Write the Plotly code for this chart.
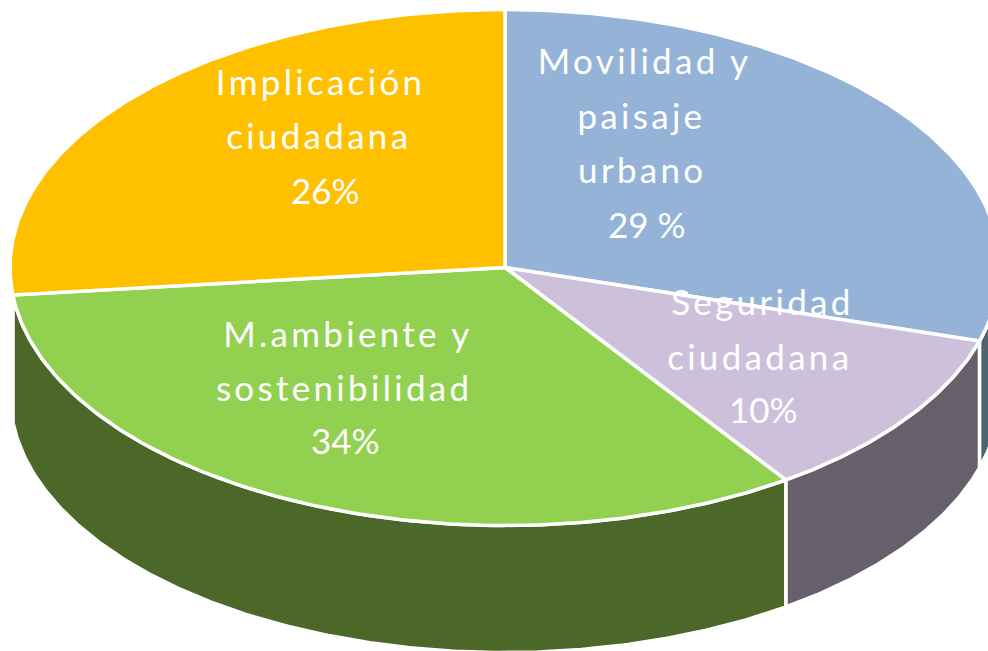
import numpy as np
import plotly.graph_objects as go

# Data
categories = ["Movilidad y paisaje urbano", "Seguridad ciudadana",
              "M.ambiente y sostenibilidad", "Implicación ciudadana"]
printed_percent = ["29 %", "10%", "34%", "26%"]
# Slice sizes (perspective makes them differ slightly from the printed labels)
slice_share = [29.6, 10.8, 32.9, 26.7]
label_lines = [["Movilidad y", "paisaje", "urbano"],
               ["Seguridad", "ciudadana"],
               ["M.ambiente y", "sostenibilidad"],
               ["Implicación", "ciudadana"]]

# Styles and layout
top_colors = ["#95B3D7", "#CCC0DA", "#92D050", "#FFC000"]
wall_colors = ["#4F6275", "#67606C", "#4B6828", "#7F6000"]
CX, CY, RX, RY, DEPTH = 505, 267.5, 495, 258, 127
label_anchor = [[(644, 60), (641, 115), (642, 169), (647, 224)],
                [(762, 301), (760, 356), (763, 409)],
                [(348, 333), (344, 387), (345, 440)],
                [(320, 81), (319, 135), (325, 190)]]


def rim(a, b, dy=0.0):
    t = np.radians(np.linspace(a, b, max(int(abs(b - a)) * 2, 2)))
    return CX + RX * np.sin(t), CY - RY * np.cos(t) + dy


edges = np.concatenate([[0], np.cumsum(slice_share)]) / sum(slice_share) * 360
fig = go.Figure()

# Side walls: only the part of each slice on the front half of the ellipse
for i in range(len(slice_share)):
    a, b = max(edges[i], 90), min(edges[i + 1], 270)
    if b <= a:
        continue
    x0, y0 = rim(a, b)
    x1, y1 = rim(a, b, DEPTH)
    fig.add_trace(go.Scatter(
        x=np.concatenate([x0, x1[::-1], x0[:1]]),
        y=np.concatenate([y0, y1[::-1], y0[:1]]),
        mode="lines", fill="toself", fillcolor=wall_colors[i],
        line=dict(color="white", width=3.5), hoverinfo="skip", showlegend=False))

# Top faces
for i, name in enumerate(categories):
    x0, y0 = rim(edges[i], edges[i + 1])
    fig.add_trace(go.Scatter(
        x=np.concatenate([[CX], x0, [CX]]),
        y=np.concatenate([[CY], y0, [CY]]),
        mode="lines", fill="toself", fillcolor=top_colors[i],
        line=dict(color="white", width=3.5), name=name, hoverinfo="name", showlegend=False))

# Labels, one annotation per printed line
for lines, pct, spots in zip(label_lines, printed_percent, label_anchor):
    for text, (lx, ly) in zip(lines + [pct], spots):
        fig.add_annotation(
            x=lx, y=ly, xref="x", yref="y", text=text, showarrow=False,
            xanchor="center", yanchor="middle",
            font=dict(family="Lato, Carlito, sans-serif", size=35, color="white"))

fig.update_layout(
    width=988, height=651, margin=dict(l=0, r=0, t=0, b=0),
    paper_bgcolor="white", plot_bgcolor="white", showlegend=False,
    xaxis=dict(range=[0, 988], visible=False, fixedrange=True),
    yaxis=dict(range=[651, 0], visible=False, fixedrange=True),
)

page_js = """
document.body.style.margin = '0';
document.body.style.overflow = 'hidden';
document.querySelectorAll('.annotation-text').forEach(function (el) {
  if (el.textContent.indexOf('%') < 0) { el.style.letterSpacing = '3.3px'; }
});
"""
fig.write_html("out.html", post_script=page_js, config={"displayModeBar": False})
